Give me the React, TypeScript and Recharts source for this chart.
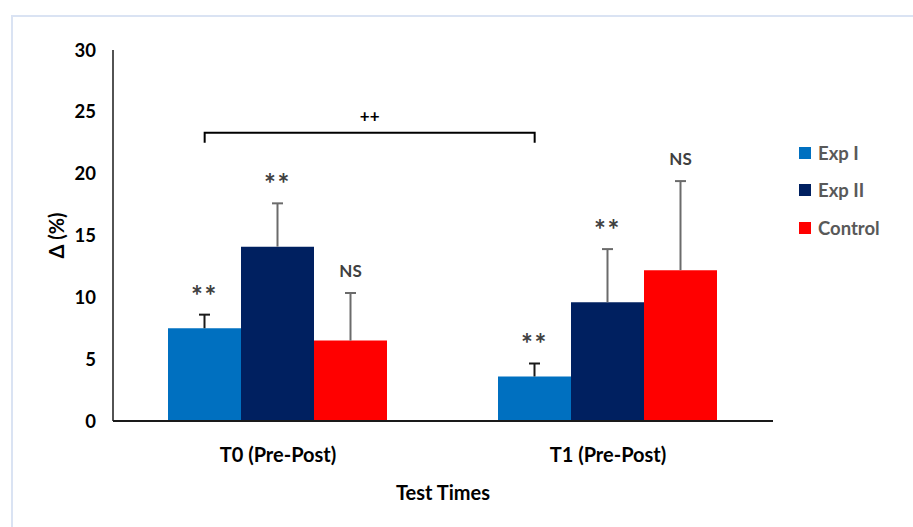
import { Bar, BarChart, LabelList, ReferenceLine, XAxis, YAxis } from 'recharts'

const categories = ['T0 (Pre-Post)', 'T1 (Pre-Post)']
const exp1 = [7.5, 3.6]
const exp2 = [14.1, 9.6]
const control = [6.5, 12.2]
const exp1Err = [1.1, 1.05]
const exp2Err = [3.5, 4.3]
const controlErr = [3.85, 7.2]
const exp1Sig = ['**', '**']
const exp2Sig = ['**', '**']
const controlSig = ['NS', 'NS']
const yTicks = [0, 5, 10, 15, 20, 25, 30]
const bracketLevel = 23.3
const bracketLabel = '++'

const CATEGORY_GAP = 1 / 6
const FONT = 'Lato, "Open Sans", sans-serif'

const series = [
  { key: 'exp1', name: 'Exp I', color: '#0070c0', values: exp1, err: exp1Err, sig: exp1Sig, errColor: '#1a1a1a' },
  { key: 'exp2', name: 'Exp II', color: '#002060', values: exp2, err: exp2Err, sig: exp2Sig, errColor: '#6b6b6b' },
  { key: 'control', name: 'Control', color: '#ff0000', values: control, err: controlErr, sig: controlSig, errColor: '#6b6b6b' },
]

const data = categories.map((cat, i) => {
  const row: Record<string, unknown> = { cat }
  series.forEach((s) => {
    row[s.key] = s.values[i]
    row[s.key + 'Sig'] = s.sig[i]
  })
  return row
})

// plus-only error whisker and significance mark, placed from the bar's own geometry
function sigLabel(values: number[], err: number[], errColor: string) {
  return (props: any) => {
    const { x, y, width, height, index, value } = props
    const v = values[index]
    const pxPerUnit = Number(height) / v
    const top = Number(y) - err[index] * pxPerUnit
    const cx = Number(x) + Number(width) / 2
    const isStar = value === '**'
    return (
      <g>
        <line x1={cx} x2={cx} y1={Number(y)} y2={top} stroke={errColor} strokeWidth={2} />
        <line x1={cx - 5.5} x2={cx + 5.5} y1={top} y2={top} stroke={errColor} strokeWidth={2} />
        <text
          x={cx}
          y={top - (isStar ? 9 : 16)}
          textAnchor="middle"
          fill="#404040"
          fontWeight={700}
          fontSize={isStar ? 28 : 17}
          letterSpacing={isStar ? 1.5 : 0}
          fontFamily={FONT}
        >
          {value}
        </text>
      </g>
    )
  }
}

function Bracket(props: any) {
  const { x1, x2, y1 } = props
  const band = x2 - x1
  // Exp I bar centre sits left of the category centre
  const shift = band * (0.5 - CATEGORY_GAP) - (band * (1 - 2 * CATEGORY_GAP)) / 6
  const a = x1 - shift
  const b = x2 - shift
  return (
    <g>
      <path d={`M${a},${y1 + 10}V${y1}H${b}V${y1 + 10}`} stroke="#000" strokeWidth={2} fill="none" />
      <text x={(a + b) / 2} y={y1 - 11} textAnchor="middle" fontWeight={700} fontSize={17} fontFamily={FONT} fill="#000">
        {bracketLabel}
      </text>
    </g>
  )
}

function LegendBox() {
  return (
    <div style={{ position: 'absolute', left: 799, top: 134, fontFamily: FONT }}>
      {series.map((s) => (
        <div key={s.key} style={{ display: 'flex', alignItems: 'center', height: 37.5 }}>
          <span style={{ width: 12, height: 12, background: s.color, marginRight: 7 }} />
          <span style={{ fontSize: 18.5, fontWeight: 700, color: '#595959' }}>{s.name}</span>
        </div>
      ))}
    </div>
  )
}

export default function App() {
  return (
    <div style={{ position: 'absolute', left: 0, top: 0, width: 913, height: 527, background: '#fff' }}>
      <div
        style={{
          position: 'absolute',
          left: 11,
          top: 15,
          right: 0,
          bottom: 0,
          borderLeft: '2px solid #dae3f3',
          borderTop: '2px solid #dae3f3',
        }}
      />
      <BarChart
        width={913}
        height={527}
        data={data}
        margin={{ top: 50, right: 140, bottom: 0, left: 0 }}
        barCategoryGap={`${CATEGORY_GAP * 100}%`}
        barGap={0}
        style={{ fontFamily: FONT }}
      >
        <XAxis
          dataKey="cat"
          height={106}
          axisLine={{ stroke: '#1a1a1a', strokeWidth: 2 }}
          tickLine={false}
          tickSize={0}
          tickMargin={27}
          tick={{ fill: '#000', fontSize: 20, fontWeight: 700 }}
          label={{ value: 'Test Times', position: 'insideTop', offset: 65, fill: '#000', fontSize: 20, fontWeight: 700 }}
        />
        <YAxis
          width={113}
          domain={[0, 30]}
          ticks={yTicks}
          interval={0}
          axisLine={{ stroke: '#1a1a1a', strokeWidth: 1.5 }}
          tickLine={false}
          tickSize={0}
          tickMargin={17}
          tick={{ fill: '#000', fontSize: 18.5, fontWeight: 700 }}
          label={{ value: 'Δ (%)', angle: -90, position: 'center', fill: '#000', fontSize: 20, fontWeight: 700 }}
        />
        {series.map((s) => (
          <Bar key={s.key} dataKey={s.key} name={s.name} fill={s.color} isAnimationActive={false}>
            <LabelList dataKey={s.key + 'Sig'} content={sigLabel(s.values, s.err, s.errColor)} />
          </Bar>
        ))}
        <ReferenceLine
          segment={[
            { x: categories[0], y: bracketLevel },
            { x: categories[1], y: bracketLevel },
          ]}
          shape={Bracket}
          ifOverflow="visible"
        />
      </BarChart>
      <LegendBox />
    </div>
  )
}
